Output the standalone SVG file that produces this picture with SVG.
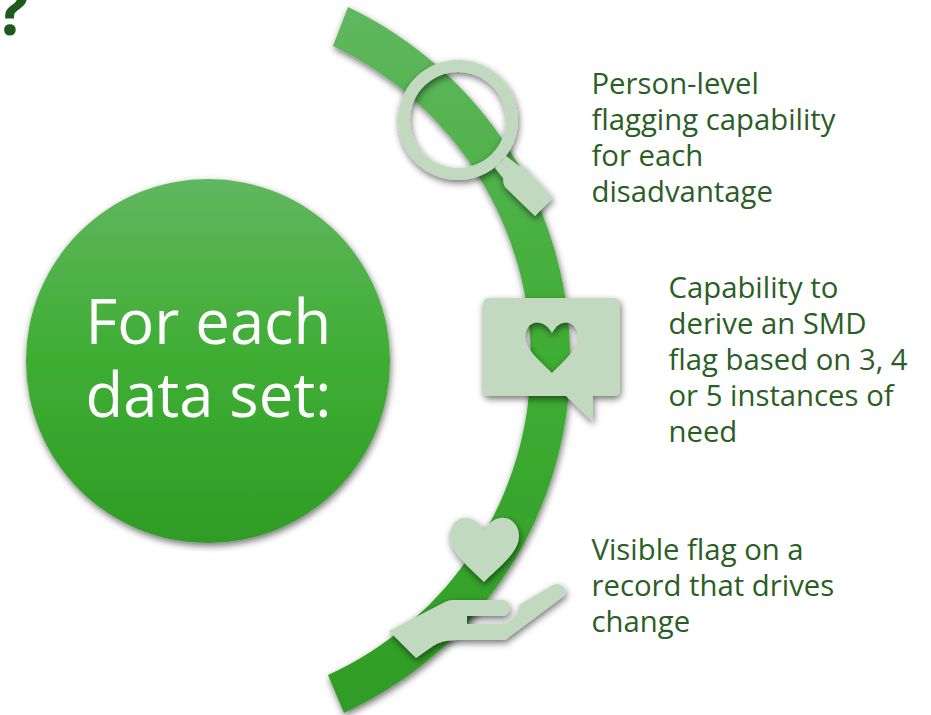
<svg xmlns="http://www.w3.org/2000/svg" width="931" height="715" viewBox="0 0 931 715">
<style>
text{font-family:"Open Sans","Noto Sans","Liberation Sans",sans-serif}
.label{font-size:29.3px;fill:#2b5e25}
.hero{font-size:61.5px;fill:#fff}
.icon{fill:#c1d9bf;filter:url(#sh)}
</style>
<defs>
<linearGradient id="g" x1="0" y1="0" x2="0" y2="1"><stop offset="0" stop-color="#60b75f"/><stop offset=".5" stop-color="#3ead33"/><stop offset="1" stop-color="#2f9c25"/></linearGradient>
<linearGradient id="gb" gradientUnits="userSpaceOnUse" x1="0" y1="7" x2="0" y2="713"><stop offset="0" stop-color="#60b75f"/><stop offset=".5" stop-color="#3ead33"/><stop offset="1" stop-color="#2f9c25"/></linearGradient>
<filter id="sh" x="-30%" y="-30%" width="170%" height="170%"><feDropShadow dx="1" dy="3" stdDeviation="3.5" flood-color="#000" flood-opacity=".55"/></filter>
</defs>
<g id="question-mark"><text x="-4" y="35" style="font-size:68px;font-weight:700;fill:#1f5a1c">?</text></g>
<g id="arc"><path d="M348 7A390 390 0 0 1 344 713L328 675A347 347 0 0 0 333 46Z" fill="url(#gb)" filter="url(#sh)"/></g>
<g id="hero-circle"><circle cx="208" cy="361" r="182" fill="url(#g)" filter="url(#sh)"/><text class="hero" x="85.5" y="344">For each</text><text class="hero" x="85.5" y="417">data set:</text></g>
<g id="magnifier"><path class="icon" fill-rule="evenodd" d="M458 60a60 60 0 1 1 0 120a60 60 0 1 1 0-120ZM458 72a48 48 0 1 0 0 96a48 48 0 1 0 0-96ZM495 168L506 156L519 166Q523 165 527 170L553 198L535 216L505 187Q503 183 503 178Z"/></g>
<g id="speech-bubble"><path class="icon" fill-rule="evenodd" d="M489 298H614Q620 298 620 304V390Q620 396 614 396H593V422L566 396H489Q483 396 483 390V304Q483 298 489 298ZM552 333C548 326 543 322.500 537 322.500C530 322.500 525 329 525 337C525 349 540 361 552 373C564 361 578 349 578 337C578 329 573 322.500 566 322.500C560 322.500 556 326 552 333Z"/></g>
<g id="heart-hand"><path class="icon" d="M484 531C480 523 473 517.700 465 517.700C456 517.700 450 526 450 536C450 552 468 566 484 582C500 566 519 552 519 536C519 526 512 517.700 503 517.700C495 517.700 488 523 484 531Z"/><path class="icon" d="M389 631L445 602Q449 600 453 600H502A8 8 0 0 1 502 616H467V624H500Q510 622 516 615Q520 610 519 605L553 585C561 581 569 590 564 596L505 640H457Q441 640 433 646L416 658Z"/></g>
<g id="labels"><text class="label" x="591.500" y="93.500">Person-level</text><text class="label" x="591.500" y="129.500">flagging capability</text><text class="label" x="591.500" y="165.500">for each</text><text class="label" x="591.500" y="201.500">disadvantage</text>
<text class="label" x="668.500" y="298">Capability to</text><text class="label" x="668.500" y="334">derive an SMD</text><text class="label" x="668.500" y="370">flag based on 3, 4</text><text class="label" x="668.500" y="406">or 5 instances of</text><text class="label" x="668.500" y="442">need</text>
<text class="label" x="591.500" y="560">Visible flag on a</text><text class="label" x="591.500" y="596">record that drives</text><text class="label" x="591.500" y="632">change</text></g>
</svg>
